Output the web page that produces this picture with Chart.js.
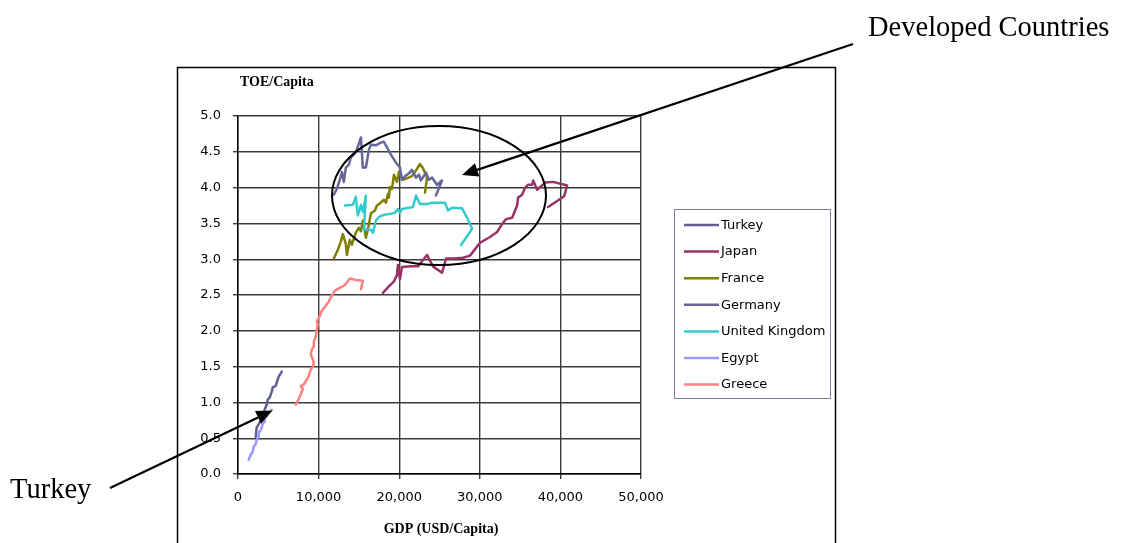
<!DOCTYPE html>
<html>
<head>
<meta charset="utf-8">
<title>Energy use per capita vs GDP per capita</title>
<script src="https://cdn.jsdelivr.net/npm/chart.js@4.4.1/dist/chart.umd.min.js"></script>
<style>
  html, body { margin: 0; padding: 0; background: #ffffff; }
  #wrap { position: relative; width: 1126px; height: 543px; overflow: hidden; }
  canvas { position: absolute; left: 0; top: 0; }
</style>
</head>
<body>
<div id="wrap"><canvas id="chart" width="1126" height="543"></canvas></div>
<script>
// ---- Series names and tick labels ----
const seriesNames = ['Turkey', 'Japan', 'France', 'Germany', 'United Kingdom', 'Egypt', 'Greece'];
const xTickLabels = ['0', '10,000', '20,000', '30,000', '40,000', '50,000'];
const yTickLabels = ['0.0', '0.5', '1.0', '1.5', '2.0', '2.5', '3.0', '3.5', '4.0', '4.5', '5.0'];

// ---- GDP (USD/capita) and TOE/capita per country, one year per point ----
const turkeyGdp = [2200, 2320, 2700, 2950, 3070, 3320, 3570, 3690, 3940, 4190, 4310, 4680, 4930, 5060, 5430];
const turkeyToe = [0.52, 0.65, 0.72, 0.79, 0.84, 0.90, 0.97, 1.04, 1.07, 1.15, 1.21, 1.23, 1.32, 1.36, 1.43];

const japanGdp = [17980, 18720, 19350, 19720, 19840, 20090, 20340, 21460, 22330, 23450, 24190, 25310, 25810, 26680, 27920,
                  28790, 30030, 31270, 32140, 32890, 33260, 34010, 34630, 34750, 35250, 35620, 36000, 36490, 36620, 37110,
                  38110, 39100, 40840, 40470, 38480];
const japanToe = [2.53, 2.62, 2.69, 2.78, 2.92, 2.72, 2.89, 2.90, 2.90, 3.06, 2.90, 2.81, 3.01, 3.01, 3.02,
                  3.05, 3.23, 3.31, 3.38, 3.51, 3.56, 3.58, 3.75, 3.86, 3.90, 4.00, 4.04, 4.04, 4.10, 3.97,
                  4.07, 4.08, 4.03, 3.88, 3.73];

const franceGdp = [11890, 12390, 12760, 13010, 13380, 13510, 13880, 14130, 14620, 15000, 15250, 15490, 15870, 16120, 16490,
                   16990, 17230, 17610, 18100, 18350, 18600, 18720, 18850, 19100, 19350, 19720, 19970, 20460, 20960, 21580,
                   22200, 22580, 22950, 23450, 23200];
const franceToe = [3.01, 3.13, 3.25, 3.35, 3.21, 3.06, 3.27, 3.20, 3.37, 3.44, 3.39, 3.54, 3.30, 3.42, 3.64,
                   3.68, 3.75, 3.78, 3.83, 3.79, 3.91, 3.86, 4.01, 3.98, 4.18, 4.08, 4.22, 4.11, 4.13, 4.16,
                   4.26, 4.33, 4.27, 4.14, 3.93];

const germanyGdp = [11890, 12260, 12640, 12890, 13130, 13380, 13760, 14000, 14380, 14750, 15250, 15490, 15870, 16240, 16490,
                    17110, 17730, 18100, 18970, 19590, 20090, 20340, 20840, 21330, 21580, 22080, 22450, 22700, 23320, 23690,
                    24070, 24690, 25310, 24560];
const germanyToe = [3.90, 3.98, 4.11, 4.22, 4.08, 4.28, 4.32, 4.42, 4.46, 4.53, 4.70, 4.28, 4.28, 4.53, 4.60,
                    4.59, 4.63, 4.64, 4.46, 4.35, 4.28, 4.11, 4.17, 4.21, 4.25, 4.14, 4.18, 4.10, 4.21, 4.11,
                    4.14, 4.04, 4.10, 3.89];

const ukGdp = [13260, 14250, 14620, 14870, 15250, 15490, 15870, 15620, 16490, 16740, 17110, 17480, 18100, 18720, 19470,
               19840, 20090, 20340, 21210, 21710, 22080, 22580, 23450, 24190, 25680, 26060, 26550, 27800, 28420, 29040,
               28790, 27670];
const ukToe = [3.75, 3.76, 3.87, 3.61, 3.76, 3.66, 3.89, 3.41, 3.41, 3.37, 3.54, 3.59, 3.62, 3.63, 3.65,
               3.70, 3.65, 3.70, 3.72, 3.73, 3.89, 3.77, 3.77, 3.79, 3.79, 3.68, 3.72, 3.71, 3.58, 3.43,
               3.38, 3.20];

const egyptGdp = [1330, 1580, 1830, 1950, 2200, 2320, 2570, 2570, 2820, 2950, 3070, 3320, 3320, 3570, 3690, 3940, 4190];
const egyptToe = [0.20, 0.27, 0.31, 0.38, 0.42, 0.48, 0.52, 0.58, 0.61, 0.65, 0.70, 0.73, 0.79, 0.81, 0.85, 0.87, 0.90];

const greeceGdp = [7170, 7540, 7790, 8040, 7790, 8160, 8540, 8780, 9030, 9280, 9410, 9280, 9030, 9160, 9410, 9410,
                   9650, 9780, 9900, 9780, 10150, 10400, 10900, 11270, 11640, 12020, 12640, 13260, 13880, 14620, 15490, 15250];
const greeceToe = [0.97, 1.05, 1.11, 1.19, 1.23, 1.25, 1.32, 1.37, 1.46, 1.50, 1.55, 1.60, 1.67, 1.74, 1.78, 1.85,
                   1.92, 2.02, 2.09, 2.13, 2.21, 2.28, 2.35, 2.41, 2.49, 2.56, 2.60, 2.64, 2.73, 2.71, 2.70, 2.58];

// ---- Build the datasets ----
function pairUp(xs, ys) { return xs.map((x, i) => ({ x: x, y: ys[i] })); }
const lineColors = ['#606090', '#993366', '#808000', '#666699', '#33CCCC', '#9999FF', '#FF8080'];
const seriesData = [
  pairUp(turkeyGdp, turkeyToe),
  pairUp(japanGdp, japanToe),
  pairUp(franceGdp, franceToe),
  pairUp(germanyGdp, germanyToe),
  pairUp(ukGdp, ukToe),
  pairUp(egyptGdp, egyptToe),
  pairUp(greeceGdp, greeceToe)
];
const datasets = seriesNames.map((name, i) => ({
  label: name,
  data: seriesData[i],
  showLine: true,
  borderColor: lineColors[i],
  backgroundColor: lineColors[i],
  borderWidth: 2.5,
  borderJoinStyle: 'round',
  borderCapStyle: 'round',
  pointRadius: 0,
  pointHoverRadius: 0,
  tension: 0,
  fill: false,
  order: seriesNames.length - i
}));

// ---- Frame, legend, titles and call-outs ----
function arrow(ctx, x0, y0, x1, y1, headLen, headHalf) {
  const a = Math.atan2(y1 - y0, x1 - x0);
  const bx = x1 - headLen * Math.cos(a), by = y1 - headLen * Math.sin(a);
  ctx.beginPath();
  ctx.moveTo(x0, y0);
  ctx.lineTo(bx, by);
  ctx.stroke();
  ctx.beginPath();
  ctx.moveTo(x1, y1);
  ctx.lineTo(bx + headHalf * Math.sin(a), by - headHalf * Math.cos(a));
  ctx.lineTo(bx - headHalf * Math.sin(a), by + headHalf * Math.cos(a));
  ctx.closePath();
  ctx.fill();
}

const decorations = {
  id: 'decorations',
  afterDraw(chart) {
    const ctx = chart.ctx;
    ctx.save();

    // outer chart frame
    ctx.strokeStyle = '#000';
    ctx.lineWidth = 1.5;
    ctx.strokeRect(177.5, 67.5, 658, 520);

    // axis titles
    ctx.fillStyle = '#000';
    ctx.font = 'bold 14px "Liberation Serif", "Times New Roman", serif';
    ctx.textBaseline = 'middle';
    ctx.textAlign = 'left';
    ctx.fillText('TOE/Capita', 240, 82);
    ctx.textAlign = 'center';
    ctx.fillText('GDP (USD/Capita)', 441, 529);

    // legend box
    ctx.strokeStyle = '#8080A0';
    ctx.lineWidth = 1;
    ctx.strokeRect(674.5, 209.5, 156, 189);
    ctx.font = '13px "DejaVu Sans", sans-serif';
    ctx.textAlign = 'left';
    chart.data.datasets.forEach((ds, i) => {
      const y = 225 + i * 26.6;
      ctx.strokeStyle = ds.borderColor;
      ctx.lineWidth = 2.5;
      ctx.beginPath();
      ctx.moveTo(684, y);
      ctx.lineTo(719, y);
      ctx.stroke();
      ctx.fillStyle = '#000';
      ctx.fillText(ds.label, 721, y + 0.5);
    });

    // ellipse around the developed economies
    ctx.strokeStyle = '#000';
    ctx.lineWidth = 2;
    ctx.beginPath();
    ctx.ellipse(439, 195.5, 107, 69.5, 0, 0, Math.PI * 2);
    ctx.stroke();

    // call-out arrows
    ctx.fillStyle = '#000';
    ctx.lineWidth = 2.2;
    arrow(ctx, 853, 44, 462, 175, 16, 7);
    arrow(ctx, 110, 488, 272.5, 410.5, 16, 7);

    // call-out labels
    ctx.font = '28.5px "Liberation Serif", "Times New Roman", serif';
    ctx.textAlign = 'left';
    ctx.textBaseline = 'middle';
    ctx.fillText('Developed Countries', 868, 29);
    ctx.fillText('Turkey', 10, 491);

    ctx.restore();
  }
};

new Chart(document.getElementById('chart'), {
  type: 'scatter',
  data: { datasets: datasets },
  options: {
    responsive: false,
    animation: false,
    devicePixelRatio: 1,
    layout: { padding: { left: 150, top: 116, right: 485, bottom: 29 } },
    plugins: {
      legend: { display: false },
      tooltip: { enabled: false },
      title: { display: false }
    },
    scales: {
      x: {
        type: 'linear',
        min: 0,
        max: 50000,
        afterFit(scale) { scale.height = 40; },
        ticks: {
          stepSize: 10000,
          maxRotation: 0,
          autoSkip: false,
          padding: 11,
          color: '#000',
          font: { family: 'DejaVu Sans', size: 13 },
          callback: (value, index) => xTickLabels[index]
        },
        grid: { color: '#3a3a3a', lineWidth: 1.4, tickLength: 5, drawTicks: true },
        border: { display: true, color: '#000', width: 1.4 }
      },
      y: {
        type: 'linear',
        min: 0,
        max: 5,
        afterFit(scale) { scale.width = 88; },
        ticks: {
          stepSize: 0.5,
          autoSkip: false,
          padding: 12,
          color: '#000',
          font: { family: 'DejaVu Sans', size: 13 },
          callback: (value, index) => yTickLabels[index]
        },
        grid: { color: '#3a3a3a', lineWidth: 1.4, tickLength: 5, drawTicks: true },
        border: { display: true, color: '#000', width: 1.4 }
      }
    }
  },
  plugins: [decorations]
});
</script>
</body>
</html>
